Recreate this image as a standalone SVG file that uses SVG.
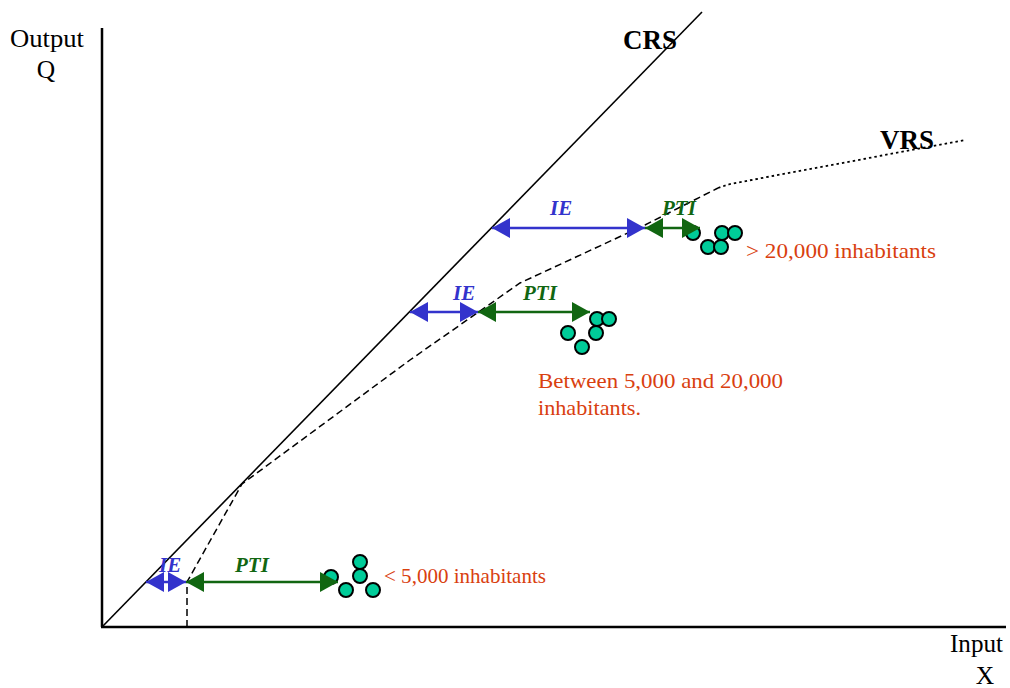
<svg xmlns="http://www.w3.org/2000/svg" width="1010" height="688" viewBox="0 0 1010 688">
<style>
.axis{stroke:#000;stroke-width:2.5;fill:none}
.crs{stroke:#000;stroke-width:1.6;fill:none}
.dash{stroke:#000;stroke-width:1.5;fill:none;stroke-dasharray:7 4}
.dot{stroke:#000;stroke-width:1.8;fill:none;stroke-dasharray:2.5 3}
.ie{stroke:#3333CC;stroke-width:2.5;fill:none;marker-start:url(#hb);marker-end:url(#hb)}
.pti{stroke:#116611;stroke-width:2.5;fill:none;marker-start:url(#hg);marker-end:url(#hg)}
.lbl{font-family:"Liberation Serif",serif;font-size:25.5px;fill:#000}
.big{font-family:"Liberation Serif",serif;font-size:27px;font-weight:bold;fill:#000}
.tie{font-family:"Liberation Serif",serif;font-size:21px;font-weight:bold;font-style:italic;fill:#3333CC}
.tpti{font-family:"Liberation Serif",serif;font-size:21px;font-weight:bold;font-style:italic;fill:#116611}
.red{font-family:"Liberation Serif",serif;font-size:22px;fill:#D9400F}
.c{fill:#00CC99;stroke:#000;stroke-width:2}
</style>
<defs>
<marker id="hb" viewBox="0 0 18 20" refX="18" refY="10" markerWidth="18" markerHeight="20" markerUnits="userSpaceOnUse" orient="auto-start-reverse"><path d="M0,0 L18,10 L0,20 Z" fill="#3333CC"/></marker>
<marker id="hg" viewBox="0 0 18 20" refX="18" refY="10" markerWidth="18" markerHeight="20" markerUnits="userSpaceOnUse" orient="auto-start-reverse"><path d="M0,0 L18,10 L0,20 Z" fill="#116611"/></marker>
</defs>
<g id="axes">
<line class="axis" x1="102" y1="28" x2="102" y2="627"/>
<line class="axis" x1="101" y1="627" x2="1006" y2="627"/>
<text class="lbl" x="10" y="47" textLength="74" lengthAdjust="spacingAndGlyphs">Output</text>
<text class="lbl" x="46" y="78" text-anchor="middle">Q</text>
<text class="lbl" x="950" y="652" textLength="53" lengthAdjust="spacingAndGlyphs">Input</text>
<text class="lbl" x="985" y="684" text-anchor="middle">X</text>
</g>
<g id="crs">
<line class="crs" x1="102" y1="627" x2="702" y2="12"/>
<text class="big" x="623" y="49">CRS</text>
</g>
<g id="vrs">
<path class="dash" d="M187,627 L187,582 L242,484 L410,360 L520,283 L645,225 L718,188"/>
<path class="dot" d="M718,188 L730,184 L965,140"/>
<text class="big" x="880" y="149">VRS</text>
</g>
<g id="cluster-small">
<circle class="c" cx="331" cy="577" r="7"/>
<circle class="c" cx="360" cy="562" r="7"/>
<circle class="c" cx="360" cy="576" r="7"/>
<circle class="c" cx="346" cy="590" r="7"/>
<circle class="c" cx="373" cy="590" r="7"/>
<text class="red" x="384" y="583" textLength="162" lengthAdjust="spacingAndGlyphs">&lt; 5,000 inhabitants</text>
</g>
<g id="cluster-medium">
<circle class="c" cx="597" cy="319" r="7"/>
<circle class="c" cx="609" cy="319" r="7"/>
<circle class="c" cx="596" cy="333" r="7"/>
<circle class="c" cx="568" cy="333" r="7"/>
<circle class="c" cx="582" cy="347" r="7"/>
<text class="red" x="538" y="388" textLength="245" lengthAdjust="spacingAndGlyphs">Between 5,000 and 20,000</text>
<text class="red" x="538" y="415" textLength="103" lengthAdjust="spacingAndGlyphs">inhabitants.</text>
</g>
<g id="cluster-large">
<circle class="c" cx="693" cy="233" r="7"/>
<circle class="c" cx="722" cy="233" r="7"/>
<circle class="c" cx="735" cy="233" r="7"/>
<circle class="c" cx="708" cy="247" r="7"/>
<circle class="c" cx="721" cy="247" r="7"/>
<text class="red" x="746" y="258" textLength="190" lengthAdjust="spacingAndGlyphs">&gt; 20,000 inhabitants</text>
</g>
<g id="connectors">
<line class="ie" x1="146" y1="582" x2="186" y2="582"/>
<line class="pti" x1="186" y1="582" x2="338" y2="582"/>
<line class="ie" x1="410" y1="312" x2="478" y2="312"/>
<line class="pti" x1="478" y1="312" x2="590" y2="312"/>
<line class="ie" x1="492" y1="228" x2="645" y2="228"/>
<line class="pti" x1="645" y1="228" x2="700" y2="228"/>
</g>
<g id="labels">
<text class="tie" x="159" y="572">IE</text>
<text class="tpti" x="235" y="572">PTI</text>
<text class="tie" x="453" y="300">IE</text>
<text class="tpti" x="523" y="300">PTI</text>
<text class="tie" x="550" y="215">IE</text>
<text class="tpti" x="662" y="215">PTI</text>
</g>
</svg>
